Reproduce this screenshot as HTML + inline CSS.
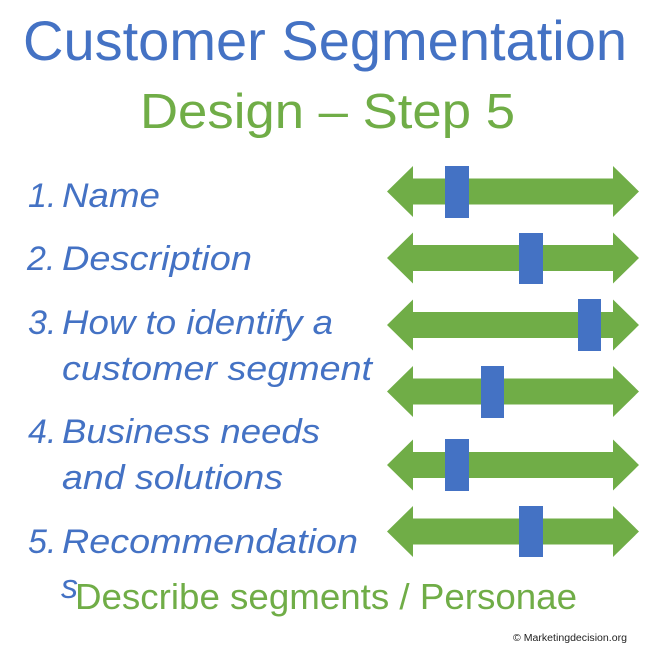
<!DOCTYPE html>
<html>
<head>
<meta charset="utf-8">
<style>
html,body{margin:0;padding:0;background:#fff;}
svg{display:block;}
text{font-family:"Liberation Sans",Arial,sans-serif;}
.t{fill:#4472C4;}
.g{fill:#70AD47;}
.li{fill:#4472C4;font-style:italic;font-size:34px;}
</style>
</head>
<body>
<svg width="650" height="650" viewBox="0 0 650 650" xmlns="http://www.w3.org/2000/svg">
<rect width="650" height="650" fill="#fff"/>
<text class="t" x="23" y="60" font-size="56" textLength="604" lengthAdjust="spacingAndGlyphs">Customer Segmentation</text>
<text class="g" x="140" y="128" font-size="49" textLength="375" lengthAdjust="spacingAndGlyphs">Design – Step 5</text>

<g fill="#70AD47">
<path id="a1" d="M387 191.5 L413 166 L413 178.5 L613 178.5 L613 166 L639 191.5 L613 217 L613 204.5 L413 204.5 L413 217 Z"/>
<path d="M387 258 L413 232.5 L413 245 L613 245 L613 232.5 L639 258 L613 283.5 L613 271 L413 271 L413 283.5 Z"/>
<path d="M387 325 L413 299.5 L413 312 L613 312 L613 299.5 L639 325 L613 350.5 L613 338 L413 338 L413 350.5 Z"/>
<path d="M387 391.5 L413 366 L413 378.5 L613 378.5 L613 366 L639 391.5 L613 417 L613 404.5 L413 404.5 L413 417 Z"/>
<path d="M387 465 L413 439.5 L413 452 L613 452 L613 439.5 L639 465 L613 490.5 L613 478 L413 478 L413 490.5 Z"/>
<path d="M387 531.5 L413 506 L413 518.5 L613 518.5 L613 506 L639 531.5 L613 557 L613 544.5 L413 544.5 L413 557 Z"/>
</g>
<g fill="#4472C4">
<rect x="445" y="166" width="24" height="52"/>
<rect x="519" y="233" width="24" height="51"/>
<rect x="578" y="299" width="23" height="52"/>
<rect x="481" y="366" width="23" height="52"/>
<rect x="445" y="439" width="24" height="52"/>
<rect x="519" y="506" width="24" height="51"/>
</g>

<text class="li" x="28" y="207">1.</text>
<text class="li" x="62" y="207" textLength="98" lengthAdjust="spacingAndGlyphs">Name</text>
<text class="li" x="27" y="270">2.</text>
<text class="li" x="62" y="270" textLength="190" lengthAdjust="spacingAndGlyphs">Description</text>
<text class="li" x="28" y="334">3.</text>
<text class="li" x="62" y="334" textLength="271" lengthAdjust="spacingAndGlyphs">How to identify a</text>
<text class="li" x="62" y="380" textLength="310" lengthAdjust="spacingAndGlyphs">customer segment</text>
<text class="li" x="28" y="443">4.</text>
<text class="li" x="62" y="443" textLength="258" lengthAdjust="spacingAndGlyphs">Business needs</text>
<text class="li" x="62" y="489" textLength="221" lengthAdjust="spacingAndGlyphs">and solutions</text>
<text class="li" x="28" y="553">5.</text>
<text class="li" x="62" y="553" textLength="296" lengthAdjust="spacingAndGlyphs">Recommendation</text>
<text class="li" x="61" y="598">s</text>

<text class="g" x="75" y="609" font-size="36" textLength="502" lengthAdjust="spacingAndGlyphs">Describe segments / Personae</text>
<text x="513" y="641" font-size="10" fill="#222" textLength="114" lengthAdjust="spacingAndGlyphs">© Marketingdecision.org</text>
</svg>
</body>
</html>
